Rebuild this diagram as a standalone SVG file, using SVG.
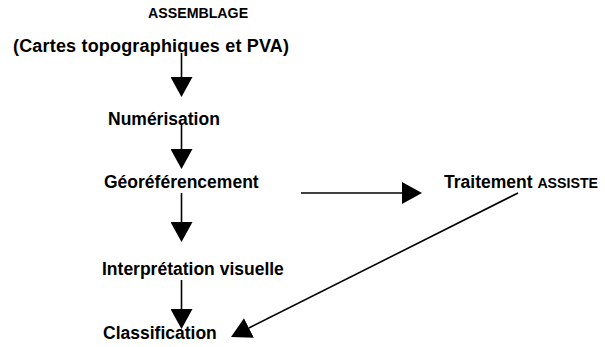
<svg xmlns="http://www.w3.org/2000/svg" width="605" height="347" viewBox="0 0 605 347">
<defs>
<style>
.t{font-family:"Liberation Sans",Arial,sans-serif;font-weight:bold;fill:#000;font-size:17.5px}
.s{font-size:14.2px}
.c{stroke:#000;stroke-width:1.6;fill:none}
</style>
<marker id="ah" viewBox="0 0 20 22" refX="0" refY="11" markerWidth="20" markerHeight="22" markerUnits="userSpaceOnUse" orient="auto">
<path d="M0,0 L20,11 L0,22 Z" fill="#000"/>
</marker>
</defs>
<rect width="605" height="347" fill="#fff"/>
<g id="assemblage">
<text class="t s" x="148" y="18">ASSEMBLAGE</text>
<text class="t" x="13" y="52" style="font-size:18px" textLength="276">(Cartes topographiques et PVA)</text>
</g>
<g id="numerisation"><text class="t" x="108" y="125">Numérisation</text></g>
<g id="georeferencement"><text class="t" x="104" y="188">Géoréférencement</text></g>
<g id="traitement"><text class="t" x="444" y="188">Traitement <tspan class="s">ASSISTE</tspan></text></g>
<g id="interpretation"><text class="t" x="102" y="275">Interprétation visuelle</text></g>
<g id="classification"><text class="t" x="103" y="339">Classification</text></g>
<g id="connectors">
<line class="c" x1="181.5" y1="53" x2="181.5" y2="77" marker-end="url(#ah)"/>
<line class="c" x1="181.5" y1="124" x2="181.5" y2="149" marker-end="url(#ah)"/>
<line class="c" x1="181.5" y1="193" x2="181.5" y2="222" marker-end="url(#ah)"/>
<line class="c" x1="181.5" y1="280" x2="181.5" y2="309" marker-end="url(#ah)"/>
<line class="c" x1="301" y1="193" x2="402" y2="193" marker-end="url(#ah)"/>
<line class="c" x1="518" y1="193" x2="248.9" y2="328" marker-end="url(#ah)"/>
</g>
</svg>
